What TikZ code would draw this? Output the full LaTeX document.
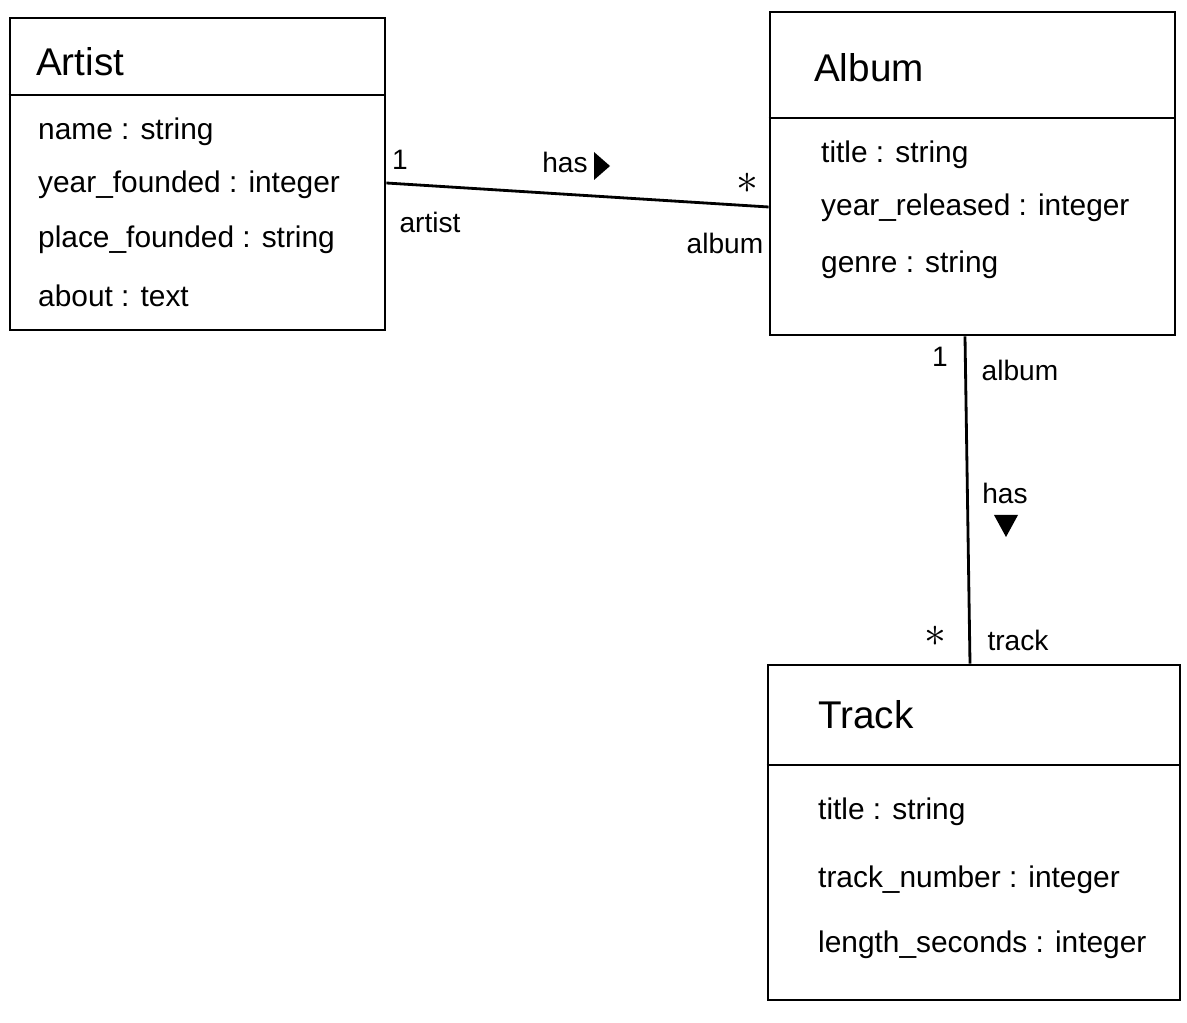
\documentclass[tikz,border=0pt]{standalone}
\usepackage{fontspec}
\setmainfont{Liberation Sans}
\begin{document}
\begin{tikzpicture}[x=0.02cm,y=-0.02cm,
    classbox/.style={draw,line width=1.6pt,inner sep=0pt},
    sepline/.style={line width=1.6pt},
    assoc/.style={line width=1.6pt},
    classname/.style={anchor=west,font=\fontsize{22}{26}\selectfont},
    attr/.style={anchor=west,font=\fontsize{17}{20}\selectfont},
    role/.style={font=\fontsize{16}{19}\selectfont},
    many/.style={font=\fontsize{26}{28}\selectfont,inner sep=0pt}]
    \useasboundingbox (0,0) rectangle (1187,1023);
    % classes
    \node[classbox,minimum width=7.5cm,minimum height=6.24cm] (artist) at (197.5,174) {};
    \node[classbox,minimum width=8.1cm,minimum height=6.46cm] (album) at (972.5,173.5) {};
    \node[classbox,minimum width=8.24cm,minimum height=6.7cm] (track) at (974,832.5) {};
    \draw[sepline] (artist.west |- 0,95) -- (artist.east |- 0,95);
    \draw[sepline] (album.west |- 0,118) -- (album.east |- 0,118);
    \draw[sepline] (track.west |- 0,765) -- (track.east |- 0,765);
    \node[classname] (artistname) at (30,62) {Artist};
    \node[classname] (albumname) at (808,68) {Album};
    \node[classname] (trackname) at (812,715) {Track};
    \node[attr] (a1) at (32,132) {name : string};
    \node[attr] (a2) at (32,185) {year\_founded : integer};
    \node[attr] (a3) at (32,240) {place\_founded : string};
    \node[attr] (a4) at (32,296) {about : text};
    \node[attr] (b1) at (815,155) {title : string};
    \node[attr] (b2) at (815,208) {year\_released : integer};
    \node[attr] (b3) at (815,265) {genre : string};
    \node[attr] (c1) at (812,812) {title : string};
    \node[attr] (c2) at (812,880) {track\_number : integer};
    \node[attr] (c3) at (812,945) {length\_seconds : integer};
    % associations
    \draw[assoc] ([yshift=-0.18cm]artist.east) -- ([yshift=-0.67cm]album.west);
    \draw[assoc] ([xshift=-0.15cm]album.south) -- ([xshift=-0.08cm]track.north);
    \node[role] (m1) at (400,160) {1};
    \node[role] (r1) at (430,222) {artist};
    \node[role] (has1) at (565,162) {has};
    \fill (594,152) -- (610,166) -- (594,180) -- cycle;
    \node[many] (m2) at (747,183) {$\ast$};
    \node[role] (r2) at (725,243) {album};
    \node[role] (m3) at (940,357) {1};
    \node[role] (r3) at (1020,370) {album};
    \node[role] (has2) at (1005,493) {has};
    \fill (994,515) -- (1018,515) -- (1006,537) -- cycle;
    \node[many] (m4) at (935,636) {$\ast$};
    \node[role] (r4) at (1018,640) {track};
\end{tikzpicture}
\end{document}
